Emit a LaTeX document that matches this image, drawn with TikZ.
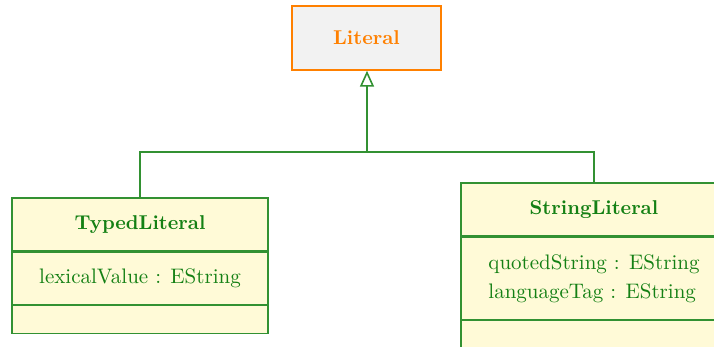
\documentclass[tikz,border=0pt]{standalone}
\usepackage{xcolor}
\usepackage{tikz}
\usetikzlibrary{arrows.meta,positioning}

\definecolor{umlgreen}{RGB}{20,128,20}
\definecolor{umlline}{RGB}{50,145,50}
\definecolor{umlfill}{RGB}{255,250,215}
\definecolor{absorange}{RGB}{255,128,0}
\definecolor{absfill}{RGB}{242,242,242}

\begin{document}
\begin{tikzpicture}[x=0.5pt, y=0.5pt,
  node distance=0pt,
  part/.style={draw=umlline, fill=umlfill, text=umlgreen, line width=0.7pt,
               minimum width=133pt, inner sep=0pt, align=left,
               font=\fontsize{10.5}{14.5}\selectfont},
  head/.style={part, font=\bfseries, minimum height=26.5pt},
  abstr/.style={draw=absorange, fill=absfill, text=absorange, font=\bfseries,
                line width=0.7pt, minimum width=74.5pt, minimum height=32pt},
  gen/.style={draw=umlline, line width=0.8pt},
  >={Triangle[open, length=8pt, width=7pt]}]
\useasboundingbox (0,0) rectangle (714,-347);
\node[abstr] (lit) at (366.5,-38) {Literal};
% TypedLiteral
\node[head, minimum width=128pt] (tlh) at (140,-224.5) {TypedLiteral};
\node[part, minimum width=128pt, minimum height=26pt, below=of tlh] (tla)
  {lexicalValue : EString};
\node[part, minimum width=128pt, minimum height=14pt, below=of tla] (tlo) {};
% StringLiteral
\node[head] (slh) at (594,-209.5) {StringLiteral};
\node[part, minimum height=41pt, below=of slh] (sla)
  {quotedString : EString\\languageTag : EString};
\node[part, minimum height=14pt, below=of sla] (slo) {};
\coordinate (j) at (367,-152);
\draw[gen] (tlh.north) |- (j) -| (slh.north);
\draw[gen, ->] (j) -- (j |- lit.south);
\end{tikzpicture}
\end{document}
